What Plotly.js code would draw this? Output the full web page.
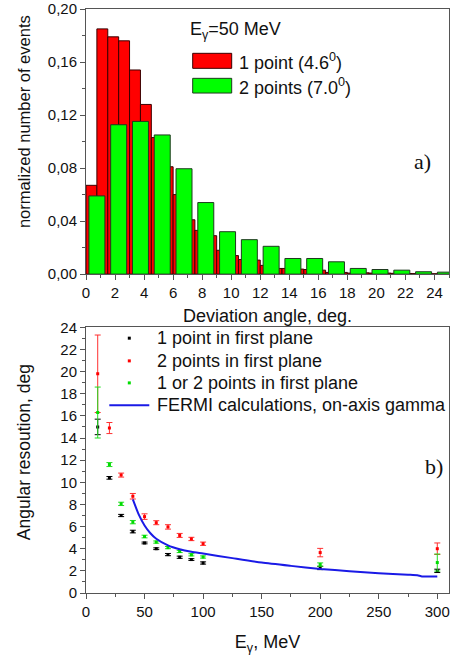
<!DOCTYPE html>
<html>
<head>
<meta charset="utf-8">
<script src="https://cdn.plot.ly/plotly-3.0.1.min.js"></script>
<style>html,body{margin:0;padding:0;background:#fff;}#chart{width:454px;height:656px;}</style>
</head>
<body>
<div id="chart"></div>
<script>
// ---- Panel a) : histogram of deviation angle (E_gamma = 50 MeV) ----
const redAngles = [0.375, 1.125, 1.875, 2.625, 3.375, 4.125, 4.875, 5.625, 6.375, 7.125, 7.875, 8.625, 9.375, 10.125, 10.875, 11.625, 12.375, 13.125, 13.875, 14.625, 15.375, 16.125, 16.875, 17.625, 18.375, 19.125, 19.875, 20.625, 21.375, 22.125, 22.875, 23.625, 24.375];
const onePointEvents = [0.067, 0.185, 0.179, 0.176, 0.154, 0.128, 0.103, 0.081, 0.060, 0.041, 0.033, 0.029, 0.018, 0.014, 0.011, 0.0106, 0.0066, 0.0043, 0.0043, 0.0038, 0.0035, 0.003, 0.0013, 0.0013, 0.0008, 0.001, 0.0008, 0.0008, 0.0006, 0.0005, 0.0004, 0.0003, 0.0003];
const greenAngles = [0.75, 2.25, 3.75, 5.25, 6.75, 8.25, 9.75, 11.25, 12.75, 14.25, 15.75, 17.25, 18.75, 20.25, 21.75, 23.25, 24.75];
const twoPointsEvents = [0.059, 0.1127, 0.1152, 0.105, 0.0795, 0.054, 0.032, 0.026, 0.021, 0.0118, 0.0118, 0.0093, 0.0043, 0.0035, 0.003, 0.0018, 0.0015];
const histTickVals = [0, 2, 4, 6, 8, 10, 12, 14, 16, 18, 20, 22, 24];
const histYTicks = [0, 0.04, 0.08, 0.12, 0.16, 0.20];

// ---- Panel b) : angular resolution vs energy ----
const energies = [10, 20, 30, 40, 50, 60, 70, 80, 90, 100, 200, 300];
const resOnePoint = [15.0, 10.4, 7.0, 5.55, 4.52, 4.0, 3.47, 3.23, 3.02, 2.71, 2.26, 2.0];
const errOnePoint = [0.7, 0.12, 0.1, 0.12, 0.08, 0.08, 0.1, 0.1, 0.08, 0.1, 0.15, 0.15];
const resTwoPoints = [19.8, 14.9, 10.65, 8.74, 6.9, 6.35, 5.97, 5.2, 4.88, 4.45, 3.65, 4.0];
const errTwoPoints = [3.5, 0.5, 0.18, 0.25, 0.25, 0.18, 0.2, 0.18, 0.15, 0.15, 0.38, 0.52];
const resOneOrTwo = [16.3, 11.6, 8.05, 6.4, 5.1, 4.6, 4.1, 3.75, 3.45, 3.25, 2.57, 2.75];
const errOneOrTwo = [2.3, 0.18, 0.15, 0.15, 0.12, 0.1, 0.1, 0.1, 0.1, 0.1, 0.15, 0.77];
const fermiEnergies = [40, 45, 50, 55, 60, 70, 80, 90, 100, 125, 150, 175, 200, 225, 250, 275, 283, 287, 300];
const fermiResolution = [8.45, 7.1, 6.1, 5.4, 4.9, 4.3, 3.95, 3.72, 3.56, 3.15, 2.75, 2.45, 2.17, 1.97, 1.78, 1.65, 1.6, 1.5, 1.5];

const legendA = ['1 point (4.6<sup>0</sup>)', '2 points (7.0<sup>0</sup>)'];
const legendB = ['1 point in first plane', '2 points in first plane', '1 or 2 points in first plane', 'FERMI calculations, on-axis gamma'];

const FONT = 'Arial, "Liberation Sans", Helvetica, sans-serif';
const AX = '#555';
const RED = '#ff0000', GREEN = '#00ff00', GREEN_ERR = '#00dd00', BLUE = '#1a1ae6';

const traces = [
  {type:'bar', x:redAngles, y:onePointEvents, width:0.75, xaxis:'x', yaxis:'y',
   marker:{color:RED, line:{color:'#3a0000', width:1}}, name:'1 point'},
  {type:'bar', x:greenAngles, y:twoPointsEvents, width:1.1, xaxis:'x', yaxis:'y',
   marker:{color:GREEN, line:{color:'#1e3a1e', width:1}}, name:'2 points'},
  {type:'scatter', mode:'markers', x:energies, y:resOnePoint, xaxis:'x2', yaxis:'y2',
   marker:{symbol:'square', size:3, color:'#000'},
   error_y:{type:'data', array:errOnePoint, color:'#000', thickness:1, width:3}},
  {type:'scatter', mode:'markers', x:energies, y:resTwoPoints, xaxis:'x2', yaxis:'y2',
   marker:{symbol:'square', size:3, color:RED},
   error_y:{type:'data', array:errTwoPoints, color:'#ff3030', thickness:1, width:3}},
  {type:'scatter', mode:'markers', x:energies, y:resOneOrTwo, xaxis:'x2', yaxis:'y2',
   marker:{symbol:'square', size:3, color:GREEN_ERR},
   error_y:{type:'data', array:errOneOrTwo, color:'#22dd22', thickness:1, width:3}},
  {type:'scatter', mode:'lines', x:fermiEnergies, y:fermiResolution, xaxis:'x2', yaxis:'y2',
   line:{color:BLUE, width:2, shape:'spline', smoothing:0.6}}
];

function baseAxis(extra){
  return Object.assign({
    showline:true, linecolor:AX, linewidth:1, mirror:true,
    ticks:'outside', ticklen:5, tickwidth:1, tickcolor:AX,
    showgrid:false, zeroline:false, fixedrange:true,
    tickfont:{family:FONT, size:15, color:'#111'}
  }, extra);
}
function mirrorAxis(extra){
  return Object.assign({
    showline:false, ticks:'inside', ticklen:4, tickwidth:1, tickcolor:AX,
    showticklabels:false, showgrid:false, zeroline:false, fixedrange:true
  }, extra);
}

const topDom = [0.546, 1];
const botDom = [0, 0.455];

function px2x(px){ return (px - 86) / 363; }
function px2y(py){ return (592.7 - py) / 583.7; }

const layout = {
  width:454, height:656,
  margin:{l:86, r:5, t:9, b:63},
  paper_bgcolor:'#fff', plot_bgcolor:'#fff',
  separators:', ',
  showlegend:false,
  barmode:'overlay',
  font:{family:FONT, size:14, color:'#111'},
  xaxis: baseAxis({domain:[0,1], anchor:'y', range:[0,25], tickvals:histTickVals,
    minor:{dtick:1, tick0:0, ticks:'outside', ticklen:3, tickcolor:AX, showgrid:false},
    title:{text:'Deviation angle, deg.', font:{family:FONT, size:18, color:'#111'}, standoff:9}}),
  yaxis: baseAxis({domain:topDom, anchor:'x', range:[0,0.2], tickvals:histYTicks, tickformat:'.2f',
    minor:{dtick:0.02, tick0:0, ticks:'outside', ticklen:3, tickcolor:AX, showgrid:false}}),
  xaxis3: mirrorAxis({overlaying:'x', side:'top', anchor:'y', range:[0,25], tickvals:histTickVals,
    minor:{dtick:1, tick0:0, ticks:'inside', ticklen:3, tickcolor:AX, showgrid:false}}),
  yaxis3: mirrorAxis({overlaying:'y', side:'right', anchor:'x', range:[0,0.2], tickvals:histYTicks,
    minor:{dtick:0.02, tick0:0, ticks:'inside', ticklen:3, tickcolor:AX, showgrid:false}}),
  xaxis2: baseAxis({domain:[0,1], anchor:'y2', range:[0,310], dtick:50, tick0:0,
    minor:{dtick:25, tick0:0, ticks:'outside', ticklen:3, tickcolor:AX, showgrid:false},
    title:{text:'E<sub>γ</sub>, MeV', font:{family:FONT, size:18, color:'#111'}, standoff:16}}),
  yaxis2: baseAxis({domain:botDom, anchor:'x2', range:[0,24], dtick:2, tick0:0,
    minor:{dtick:1, tick0:0, ticks:'outside', ticklen:3, tickcolor:AX, showgrid:false}}),
  xaxis4: mirrorAxis({overlaying:'x2', side:'top', anchor:'y2', range:[0,310], dtick:50, tick0:0,
    minor:{dtick:25, tick0:0, ticks:'inside', ticklen:3, tickcolor:AX, showgrid:false}}),
  yaxis4: mirrorAxis({overlaying:'y2', side:'right', anchor:'x2', range:[0,24], dtick:2, tick0:0,
    minor:{dtick:1, tick0:0, ticks:'inside', ticklen:3, tickcolor:AX, showgrid:false}}),
  shapes:[
    // legend a) swatches
    {type:'rect', xref:'paper', yref:'paper', x0:px2x(192.7), x1:px2x(231.7), y0:px2y(68.3), y1:px2y(53.3),
     fillcolor:RED, line:{color:'#3a0000', width:1}},
    {type:'rect', xref:'paper', yref:'paper', x0:px2x(192.7), x1:px2x(231.7), y0:px2y(93), y1:px2y(78.3),
     fillcolor:GREEN, line:{color:'#1e3a1e', width:1}},
    // legend b) symbols
    {type:'rect', xref:'paper', yref:'paper', x0:px2x(127.8), x1:px2x(130.8), y0:px2y(339.5), y1:px2y(336.5),
     fillcolor:'#000', line:{width:0}},
    {type:'rect', xref:'paper', yref:'paper', x0:px2x(127.8), x1:px2x(130.8), y0:px2y(362.2), y1:px2y(359.2),
     fillcolor:RED, line:{width:0}},
    {type:'rect', xref:'paper', yref:'paper', x0:px2x(127.8), x1:px2x(130.8), y0:px2y(384.2), y1:px2y(381.2),
     fillcolor:GREEN_ERR, line:{width:0}},
    {type:'line', xref:'paper', yref:'paper', x0:px2x(109.3), x1:px2x(149.3), y0:px2y(405), y1:px2y(405),
     line:{color:BLUE, width:2}}
  ],
  annotations:[
    {xref:'paper', yref:'paper', x:px2x(188.3), y:px2y(30), xanchor:'left', yanchor:'middle', showarrow:false,
     text:'E<sub>γ</sub>=50 MeV', font:{family:FONT, size:18, color:'#111'}},
    {xref:'paper', yref:'paper', x:px2x(237.3), y:px2y(61), xanchor:'left', yanchor:'middle', showarrow:false,
     text:legendA[0], font:{family:FONT, size:18, color:'#111'}},
    {xref:'paper', yref:'paper', x:px2x(237.3), y:px2y(86), xanchor:'left', yanchor:'middle', showarrow:false,
     text:legendA[1], font:{family:FONT, size:18, color:'#111'}},
    {xref:'paper', yref:'paper', x:px2x(422), y:px2y(161.7), xanchor:'center', yanchor:'middle', showarrow:false,
     text:'a)', font:{family:'"Liberation Serif", "Times New Roman", serif', size:22, color:'#111'}},
    {xref:'paper', yref:'paper', x:px2x(434), y:px2y(466), xanchor:'center', yanchor:'middle', showarrow:false,
     text:'b)', font:{family:'"Liberation Serif", "Times New Roman", serif', size:22, color:'#111'}},
    {xref:'paper', yref:'paper', x:px2x(155), y:px2y(338), xanchor:'left', yanchor:'middle', showarrow:false,
     text:legendB[0], font:{family:FONT, size:18, color:'#111'}},
    {xref:'paper', yref:'paper', x:px2x(155), y:px2y(360.7), xanchor:'left', yanchor:'middle', showarrow:false,
     text:legendB[1], font:{family:FONT, size:18, color:'#111'}},
    {xref:'paper', yref:'paper', x:px2x(155), y:px2y(382.7), xanchor:'left', yanchor:'middle', showarrow:false,
     text:legendB[2], font:{family:FONT, size:18, color:'#111'}},
    {xref:'paper', yref:'paper', x:px2x(155), y:px2y(405), xanchor:'left', yanchor:'middle', showarrow:false,
     text:legendB[3], font:{family:FONT, size:18, color:'#111'}},
    // y-axis titles
    {xref:'paper', yref:'paper', x:px2x(24), y:px2y(122), xanchor:'center', yanchor:'middle', showarrow:false,
     textangle:-90, text:'normalized number of events', font:{family:FONT, size:16.5, color:'#111'}},
    {xref:'paper', yref:'paper', x:px2x(24), y:px2y(452), xanchor:'center', yanchor:'middle', showarrow:false,
     textangle:-90, text:'Angular resoution, deg', font:{family:FONT, size:17.5, color:'#111'}}
  ]
};

Plotly.newPlot('chart', traces, layout, {displayModeBar:false, staticPlot:true});
</script>
</body>
</html>
